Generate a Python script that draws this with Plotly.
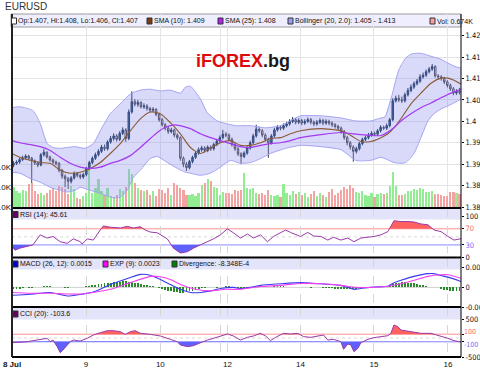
import plotly.graph_objects as go

# ---------------- data ----------------
open_ = [1.3898,1.3902,1.3905,1.3911,1.3915,1.3919,1.3914,1.3908,1.3903,1.3898,
         1.3922,1.3928,1.3917,1.3910,1.3905,1.3902,1.3886,1.3872,1.3866,1.3860,
         1.3868,1.3878,1.3874,1.3870,1.3876,1.3890,1.3904,1.3914,1.3922,1.3930,
         1.3940,1.3936,1.3952,1.3960,1.3966,1.3958,1.3972,1.3980,1.3960,1.4022,
         1.4046,1.4040,1.4044,1.4034,1.4036,1.4030,1.4026,1.4028,1.4016,1.4004,
         1.3992,1.3984,1.3976,1.3980,1.3968,1.3962,1.3914,1.3900,1.3892,1.3906,
         1.3916,1.3926,1.3934,1.3938,1.3932,1.3940,1.3936,1.3946,1.3954,1.3962,
         1.3970,1.3968,1.3958,1.3946,1.3936,1.3924,1.3918,1.3926,1.3938,1.3950,
         1.3966,1.3982,1.3978,1.3968,1.3958,1.3950,1.3966,1.3980,1.3986,1.3984,
         1.3990,1.3994,1.4000,1.4004,1.3998,1.4002,1.3996,1.4000,1.4004,1.3998,
         1.3994,1.3998,1.4002,1.3996,1.4000,1.3996,1.3992,1.3988,1.3984,1.3976,
         1.3962,1.3950,1.3940,1.3930,1.3936,1.3948,1.3958,1.3962,1.3968,1.3972,
         1.3970,1.3978,1.3986,1.3984,1.3990,1.4004,1.4048,1.4054,1.4050,1.4048,
         1.4062,1.4072,1.4080,1.4088,1.4094,1.4104,1.4108,1.4116,1.4122,1.4128,
         1.4106,1.4104,1.4100,1.4092,1.4084,1.4076,1.4066,1.4070]
high = [1.3907,1.3909,1.3915,1.3920,1.3923,1.3922,1.3917,1.3911,1.3906,1.3926,
        1.3935,1.3930,1.3920,1.3913,1.3908,1.3905,1.3889,1.3876,1.3870,1.3872,
        1.3883,1.3882,1.3878,1.3880,1.3894,1.3908,1.3918,1.3927,1.3935,1.3945,
        1.3946,1.3956,1.3966,1.3972,1.3970,1.3977,1.3986,1.3984,1.4028,1.4070,
        1.4052,1.4050,1.4047,1.4042,1.4040,1.4034,1.4033,1.4031,1.4020,1.4008,
        1.3996,1.3988,1.3985,1.3983,1.3972,1.3965,1.3918,1.3905,1.3910,1.3920,
        1.3930,1.3939,1.3943,1.3942,1.3944,1.3944,1.3950,1.3958,1.3967,1.3980,
        1.3975,1.3972,1.3962,1.3950,1.3940,1.3928,1.3930,1.3942,1.3955,1.3971,
        1.3992,1.3987,1.3982,1.3972,1.3962,1.3970,1.3985,1.3991,1.3990,1.3995,
        1.3999,1.4005,1.4010,1.4008,1.4007,1.4006,1.4005,1.4009,1.4008,1.4002,
        1.4003,1.4007,1.4006,1.4005,1.4004,1.4000,1.3996,1.3992,1.3988,1.3980,
        1.3966,1.3954,1.3944,1.3941,1.3952,1.3962,1.3967,1.3973,1.3977,1.3976,
        1.3982,1.3991,1.3990,1.3995,1.4008,1.4054,1.4060,1.4062,1.4058,1.4067,
        1.4078,1.4086,1.4093,1.4099,1.4110,1.4114,1.4121,1.4127,1.4134,1.4131,
        1.4110,1.4108,1.4104,1.4096,1.4088,1.4080,1.4075,1.4078]
low = [1.3893,1.3898,1.3901,1.3907,1.3911,1.3910,1.3856,1.3898,1.3893,1.3895,
       1.3918,1.3913,1.3906,1.3900,1.3897,1.3881,1.3866,1.3846,1.3842,1.3855,
       1.3864,1.3869,1.3865,1.3866,1.3872,1.3886,1.3900,1.3910,1.3918,1.3926,
       1.3931,1.3932,1.3948,1.3955,1.3953,1.3954,1.3968,1.3952,1.3956,1.4018,
       1.4035,1.4034,1.4030,1.4029,1.4025,1.4021,1.4022,1.4012,1.3999,1.3988,
       1.3979,1.3971,1.3972,1.3963,1.3957,1.3908,1.3893,1.3884,1.3888,1.3902,
       1.3912,1.3922,1.3929,1.3927,1.3928,1.3931,1.3932,1.3942,1.3950,1.3958,
       1.3963,1.3954,1.3941,1.3931,1.3919,1.3900,1.3914,1.3922,1.3934,1.3946,
       1.3962,1.3973,1.3963,1.3953,1.3915,1.3946,1.3962,1.3976,1.3979,1.3980,
       1.3986,1.3990,1.3996,1.3993,1.3994,1.3991,1.3992,1.3996,1.3993,1.3989,
       1.3990,1.3994,1.3991,1.3992,1.3991,1.3987,1.3983,1.3979,1.3971,1.3957,
       1.3944,1.3934,1.3906,1.3925,1.3932,1.3944,1.3954,1.3958,1.3964,1.3966,
       1.3966,1.3974,1.3980,1.3980,1.3986,1.4000,1.4044,1.4045,1.4043,1.4044,
       1.4058,1.4068,1.4076,1.4084,1.4090,1.4100,1.4104,1.4112,1.4118,1.4102,
       1.4099,1.4095,1.4087,1.4079,1.4071,1.4061,1.4062,1.4063]
close = [1.3902,1.3905,1.3911,1.3915,1.3919,1.3914,1.3908,1.3903,1.3898,1.3922,
         1.3928,1.3917,1.3910,1.3905,1.3902,1.3886,1.3872,1.3866,1.3860,1.3868,
         1.3878,1.3874,1.3870,1.3876,1.3890,1.3904,1.3914,1.3922,1.3930,1.3940,
         1.3936,1.3952,1.3960,1.3966,1.3958,1.3972,1.3980,1.3960,1.4022,1.4046,
         1.4040,1.4044,1.4034,1.4036,1.4030,1.4026,1.4028,1.4016,1.4004,1.3992,
         1.3984,1.3976,1.3980,1.3968,1.3962,1.3914,1.3900,1.3892,1.3906,1.3916,
         1.3926,1.3934,1.3938,1.3932,1.3940,1.3936,1.3946,1.3954,1.3962,1.3970,
         1.3968,1.3958,1.3946,1.3936,1.3924,1.3918,1.3926,1.3938,1.3950,1.3966,
         1.3982,1.3978,1.3968,1.3958,1.3950,1.3966,1.3980,1.3986,1.3984,1.3990,
         1.3994,1.4000,1.4004,1.3998,1.4002,1.3996,1.4000,1.4004,1.3998,1.3994,
         1.3998,1.4002,1.3996,1.4000,1.3996,1.3992,1.3988,1.3984,1.3976,1.3962,
         1.3950,1.3940,1.3930,1.3936,1.3948,1.3958,1.3962,1.3968,1.3972,1.3970,
         1.3978,1.3986,1.3984,1.3990,1.4004,1.4048,1.4054,1.4050,1.4048,1.4062,
         1.4072,1.4080,1.4088,1.4094,1.4104,1.4108,1.4116,1.4122,1.4128,1.4106,
         1.4104,1.4100,1.4092,1.4084,1.4076,1.4066,1.4070,1.4068]
volume_k = [1.0,0.8,0.7,0.85,0.8,1.15,1.2,0.8,0.65,0.7,0.6,0.7,0.85,0.95,0.8,1.05,1.0,0.9,0.65,1.05,
            0.9,0.45,0.4,0.55,0.7,1.9,0.7,0.95,1.4,0.8,0.6,0.95,0.55,0.5,0.6,0.9,0.8,1.0,1.9,1.65,
            1.2,0.95,0.85,0.8,0.85,0.6,0.8,0.55,0.9,0.85,0.7,0.95,0.6,1.2,1.1,0.95,0.85,0.6,0.6,0.65,
            0.55,0.7,1.1,1.2,1.4,1.3,1.0,0.95,0.6,0.75,0.7,0.7,0.65,0.85,0.8,0.85,1.7,0.95,0.9,0.95,
            0.7,0.65,0.7,0.6,0.85,0.6,0.55,0.6,0.5,1.15,0.7,0.6,0.8,0.65,0.75,0.6,0.7,0.5,0.65,0.8,
            0.55,0.7,0.6,0.5,0.75,0.9,0.6,0.7,0.85,1.0,0.9,1.1,0.95,0.75,0.7,0.8,0.6,0.55,0.7,0.5,
            0.65,0.7,0.65,0.7,1.05,1.75,1.05,0.6,0.6,0.65,0.8,0.8,0.9,0.85,0.95,0.9,0.75,0.75,0.8,0.65,
            0.65,0.6,0.55,0.55,0.75,0.75,0.7,0.674]

sma10_x = [-0.5,2.1,5.4,8.8,12.1,15.4,18.7,22.0,25.3,28.6,31.9,35.2,38.5,41.8,45.1,48.4,51.7,55.0,
           58.3,61.6,64.9,68.2,71.5,74.8,78.1,81.4,84.7,88.0,91.3,94.6,101.3,107.9,111.2,114.5,117.8,
           121.1,123.4,125.4,127.7,131.0,134.3,137.6,140.9,143.2,145.2,147.5]
sma10 = [1.3925,1.3916,1.3909,1.3904,1.3902,1.3886,1.3879,1.3881,1.3890,1.3904,1.3925,1.3948,1.3978,
         1.4006,1.4022,1.4018,1.3997,1.3971,1.3939,1.3925,1.3937,1.3950,1.3955,1.3944,1.3944,1.3950,
         1.3960,1.3962,1.3971,1.3978,1.3983,1.3978,1.3967,1.3953,1.3953,1.3962,1.3971,1.3985,1.4006,
         1.4041,1.4066,1.4089,1.4101,1.4101,1.4096,1.4087]
sma25_x = [-0.5,2.1,5.4,8.8,12.1,15.4,18.7,22.0,25.3,28.6,31.9,35.2,38.5,41.8,45.1,47.4,49.7,53.3,
           58.3,61.6,64.9,68.2,71.5,74.8,78.1,81.4,84.7,88.0,91.3,94.6,101.3,107.9,114.5,121.1,125.4,
           127.7,131.0,134.3,137.6,140.9,144.2,147.5]
sma25 = [1.3955,1.3950,1.3946,1.3941,1.3932,1.3916,1.3902,1.3893,1.3890,1.3893,1.3902,1.3909,1.3920,
         1.3939,1.3960,1.3974,1.3985,1.3992,1.3983,1.3971,1.3962,1.3955,1.3948,1.3941,1.3939,1.3944,
         1.3948,1.3950,1.3955,1.3962,1.3969,1.3974,1.3969,1.3967,1.3985,1.4001,1.4018,1.4032,1.4043,
         1.4055,1.4066,1.4075]
bb_up_x = [-0.5,2.1,6.4,8.8,11.1,13.0,15.4,17.7,20.3,23.6,26.3,28.6,31.9,35.2,38.5,41.8,45.1,48.4,
           51.7,55.0,56.7,58.3,61.6,63.9,67.2,70.5,73.2,78.1,83.1,88.0,93.0,94.6,101.3,107.9,112.8,
           117.8,121.1,122.4,124.7,127.0,129.3,131.0,134.3,137.6,140.9,143.2,145.2,147.5]
bb_up = [1.4032,1.4034,1.4025,1.3995,1.3948,1.3939,1.3937,1.3939,1.3941,1.3937,1.3948,1.3978,1.4018,
         1.4041,1.4064,1.4073,1.4075,1.4071,1.4073,1.4066,1.4080,1.4082,1.4052,1.4020,1.4001,1.3994,
         1.3990,1.3990,1.3985,1.3990,1.4008,1.4013,1.4013,1.4008,1.4001,1.4001,1.4008,1.4010,1.4060,
         1.4120,1.4148,1.4157,1.4159,1.4152,1.4145,1.4136,1.4129,1.4124]
bb_lo_x = [-0.5,2.1,5.4,8.8,12.1,15.4,17.7,20.3,22.0,25.3,28.6,31.9,33.5,35.2,37.5,39.5,41.8,45.1,
           47.4,50.0,53.3,56.7,58.3,61.6,64.9,68.2,71.5,74.8,78.1,81.4,84.7,89.7,94.6,101.3,107.9,
           112.8,117.8,121.1,125.4,127.7,129.3,132.0,134.3,136.6,138.6,140.9,143.2,147.5]
bb_lo = [1.3881,1.3879,1.3867,1.3858,1.3846,1.3839,1.3835,1.3839,1.3846,1.3839,1.3832,1.3823,1.3821,
         1.3823,1.3839,1.3869,1.3886,1.3913,1.3918,1.3907,1.3893,1.3881,1.3879,1.3874,1.3879,1.3893,
         1.3909,1.3902,1.3904,1.3913,1.3925,1.3937,1.3944,1.3941,1.3934,1.3909,1.3909,1.3916,1.3904,
         1.3902,1.3904,1.3925,1.3962,1.4001,1.4018,1.4029,1.4036,1.4052]

rsi_x = [-0.5,0.5,2.1,4.5,6.4,8.8,11.1,13.0,15.4,17.7,19.7,22.0,22.6,24.3,26.3,28.6,29.6,31.9,35.2,
         37.5,39.5,41.8,43.4,45.1,47.4,49.4,50.7,52.7,55.0,57.3,59.3,61.6,63.9,65.9,68.2,70.5,72.5,
         74.8,77.1,79.1,81.4,83.7,85.7,88.0,89.7,91.3,94.6,97.0,99.0,101.3,103.6,105.5,107.9,110.2,
         112.2,114.5,116.8,118.8,121.1,123.4,125.4,127.7,130.0,132.0,134.3,136.6,138.6,140.9,143.2,
         145.2,147.5]
rsi = [26,17,22,26,30,55,47,51,38,34,45,38,32,45,42,67,77,74,72,76,72,75,67,62,60,51,45,22,10,13,
       22,30,38,45,55,70,60,47,57,47,55,38,51,60,67,61,51,61,52,51,42,49,42,47,38,47,49,51,55,63,
       90,88,88,87,82,80,67,63,51,42,45.61]

macd_x = [-0.5,5.4,12.1,17.7,22.0,26.3,28.6,31.9,35.2,38.5,41.8,45.1,48.4,51.7,55.0,58.3,61.6,64.9,
          68.2,72.5,74.8,78.1,81.4,88.0,94.6,101.3,107.9,112.2,114.5,118.8,123.4,125.4,127.7,132.0,
          136.6,138.6,140.9,143.2,147.5]
macd = [-0.0020,-0.00175,-0.0013,-0.0022,-0.0018,-0.0012,-0.0005,0.00075,0.0016,0.0025,0.0033,
        0.0031,0.0020,0.00075,-0.0005,-0.0013,-0.0013,-0.0009,-0.0003,0.0,-0.0003,0.0,0.0005,0.0009,
        0.0012,0.0009,0.0005,-0.0005,-0.0003,0.0001,0.0003,0.0012,0.0018,0.0028,0.0035,0.0035,0.0030,
        0.0026,0.0015]
signal_x = [-0.5,5.4,12.1,17.7,22.0,26.3,31.9,38.5,45.1,48.4,51.7,55.0,60.0,64.9,69.9,74.8,81.4,
            88.0,94.6,101.3,107.9,112.8,117.8,123.4,127.7,132.0,136.6,140.9,143.2,147.5]
signal = [-0.0013,-0.0015,-0.0015,-0.0017,-0.0017,-0.0013,-0.0005,0.0012,0.0028,0.0027,0.0020,
          0.00075,-0.0005,-0.0009,-0.0005,-0.0005,0.0002,0.0005,0.0010,0.0009,0.0005,0.0,0.0,0.0003,
          0.0009,0.0018,0.0028,0.0032,0.0032,0.0023]
divergence = [-0.0004,-0.0005,-0.0004,
              -0.0001,0.0,-0.0002,-0.0001,0.0001,0.0,
              0.0002,0.0003,0.0003,0.0003,0.0002,0.0002,0.0001,
              0.0,-0.0001,-0.0001,0.0,0.0001,0.0,0.0,
              0.0002,0.0003,0.0004,0.0005,0.0006,0.0008,0.0009,
              0.0010,0.0011,0.0012,0.0013,0.0013,0.0014,0.0015,0.0016,0.0014,0.0013,0.0012,
              0.0011,0.0009,0.0007,0.0005,
              0.0004,0.0003,0.0001,
              -0.0002,-0.0004,-0.0006,-0.0008,-0.0010,-0.0012,-0.0013,-0.0014,-0.0014,-0.0012,
              -0.0010,-0.0008,-0.0006,-0.0004,
              -0.0002,-0.0001,0.0,0.0001,0.0,-0.0001,0.0,0.0002,0.0003,0.0003,0.0002,0.0001,-0.0001,-0.0002,
              -0.0002,-0.0001,0.0,0.0001,
              0.0002,0.0003,0.0003,0.0002,0.0001,0.0002,0.0003,0.0004,0.0003,0.0003,0.0002,0.0002,0.0001,0.0001,0.0,0.0,
              0.0001,0.0,-0.0001,0.0,0.0001,0.0,-0.0001,-0.0001,-0.0002,
              -0.0002,-0.0003,-0.0003,-0.0004,-0.0005,-0.0005,-0.0004,-0.0004,-0.0003,-0.0002,
              -0.0001,0.0,0.0001,0.0001,0.0002,0.0002,0.0002,0.0003,0.0003,
              0.0006,0.0009,0.0011,0.0012,0.0013,0.0013,0.0012,0.0011,0.0010,0.0008,0.0006,0.0005,0.0004,
              0.0002,0.0002,0.0001,0.0,
              -0.0004,-0.0006,-0.0007,-0.0008,-0.0009,-0.0009,-0.0008348]

cci_x = [-0.5,2.1,4.5,6.4,8.8,11.1,12.1,13.0,14.4,15.4,16.3,17.7,18.7,19.7,22.0,24.3,26.3,28.6,30.9,
         32.9,35.2,36.8,38.5,40.1,41.8,45.1,48.4,51.7,54.0,55.0,57.3,59.3,61.6,63.9,65.9,68.2,70.5,
         72.5,74.8,77.1,79.1,81.4,83.1,84.7,86.4,89.0,91.3,93.7,95.6,98.0,100.3,102.2,103.6,105.5,
         107.9,108.8,110.2,111.2,112.2,113.5,114.5,116.8,118.8,121.1,123.4,124.4,125.4,126.7,127.7,
         131.0,134.3,137.6,140.9,143.2,145.2,147.5]
cci = [-123,-113,-97,-70,-35,-9,-97,-53,-228,-386,-316,-184,-97,-53,-79,-9,79,140,193,193,167,96,
       167,193,123,96,53,-35,-97,-184,-228,-202,-123,-53,-9,53,105,53,-53,18,53,123,53,-70,18,123,
       105,123,35,18,53,79,-53,-35,-97,-298,-158,-184,-360,-272,-123,-35,9,35,61,123,342,298,210,
       167,123,123,53,-9,-70,-103.6]

x_tick_vals = [-0.5, 23.9, 48.4, 68.2, 70.5, 94.6, 118.8, 143.2]
x_tick_text = ["<b>8 Jul</b>", "9", "10", "", "12", "14", "15", "16"]
price_ticks = [1.38, 1.385, 1.39, 1.395, 1.40, 1.405, 1.41, 1.415, 1.42]
price_tick_text = ["1.38", "1.385", "1.39", "1.395", "1.4", "1.405", "1.41", "1.415", "1.42"]
vol_ticks = [0, 1, 2]
vol_tick_text = ["0.0K", "1.0K", "2.0K"]
rsi_ticks = [0, 30, 70, 100]
macd_ticks = [-0.005, 0, 0.005]
cci_ticks = [-500, -100, 100, 500]

# ---------------- layout helpers ----------------
W, H = 480, 370
ML, MR, MT, MB = 12, 19, 14, 13
PW = W - ML - MR
PH = H - MT - MB
FONT = "Liberation Sans, Arial, sans-serif"
NARROW = "Liberation Sans Narrow, Arial Narrow, DejaVu Sans Condensed, Liberation Sans, sans-serif"
RED_TXT, BLUE_TXT = '#ff6a6a', '#7070ff'


def px(x):
    return (x - ML) / PW


def py(y):
    return (H - MB - y) / PH


def clip_poly(xs, ys, t, above=True):
    ox, oy = [], []
    for i in range(len(xs)):
        if i > 0:
            a, b = ys[i - 1] - t, ys[i] - t
            if a * b < 0:
                f = a / (a - b)
                ox.append(xs[i - 1] + f * (xs[i] - xs[i - 1]))
                oy.append(t)
        ox.append(xs[i])
        oy.append(max(ys[i], t) if above else min(ys[i], t))
    ox += [xs[-1], xs[0]]
    oy += [t, t]
    return ox, oy


idx = list(range(len(close)))
vol_colors = ['#92ec92' if c > o else ('#f4a3a3' if c < o else '#c8c8c8')
              for o, c in zip(open_, close)]

fig = go.Figure()

# volume (base axis of main panel)
fig.add_trace(go.Bar(x=idx, y=volume_k, width=0.72, marker=dict(color=vol_colors, line=dict(width=0)),
                     xaxis='x', yaxis='y', hoverinfo='skip'))
# bollinger band
fig.add_trace(go.Scatter(x=bb_up_x + bb_lo_x[::-1], y=bb_up + bb_lo[::-1], fill='toself',
                         fillcolor='rgba(140,140,240,0.33)', line=dict(width=0), mode='lines',
                         xaxis='x', yaxis='y2', hoverinfo='skip'))
for bx, by in ((bb_up_x, bb_up), (bb_lo_x, bb_lo)):
    fig.add_trace(go.Scatter(x=bx, y=by, mode='lines', line=dict(color='#a4a4f4', width=1, shape='spline', smoothing=0.6),
                             xaxis='x', yaxis='y2', hoverinfo='skip'))
# candles
fig.add_trace(go.Candlestick(x=idx, open=open_, high=high, low=low, close=close,
                             increasing=dict(line=dict(color='#0d2c48', width=1), fillcolor='#1d5a88'),
                             decreasing=dict(line=dict(color='#3c3c3c', width=1), fillcolor='#ffffff'),
                             whiskerwidth=0, xaxis='x', yaxis='y2', hoverinfo='skip'))
fig.add_trace(go.Scatter(x=sma10_x, y=sma10, mode='lines', line=dict(color='#8a5a34', width=1.1, shape='spline', smoothing=0.6),
                         xaxis='x', yaxis='y2', hoverinfo='skip'))
fig.add_trace(go.Scatter(x=sma25_x, y=sma25, mode='lines', line=dict(color='#a33af0', width=1.2, shape='spline', smoothing=0.6),
                         xaxis='x', yaxis='y2', hoverinfo='skip'))

# RSI
fx, fy = clip_poly(rsi_x, rsi, 70, True)
fig.add_trace(go.Scatter(x=fx, y=fy, fill='toself', fillcolor='#ff6060', line=dict(width=0), mode='lines',
                         xaxis='x2', yaxis='y3', hoverinfo='skip'))
fx, fy = clip_poly(rsi_x, rsi, 30, False)
fig.add_trace(go.Scatter(x=fx, y=fy, fill='toself', fillcolor='#6060ff', line=dict(width=0), mode='lines',
                         xaxis='x2', yaxis='y3', hoverinfo='skip'))
fig.add_trace(go.Scatter(x=rsi_x, y=rsi, mode='lines', line=dict(color='#9a3aa8', width=1),
                         xaxis='x2', yaxis='y3', hoverinfo='skip'))

# MACD
fig.add_trace(go.Bar(x=idx, y=divergence, width=0.62, marker=dict(color='#2a8a2a', line=dict(width=0)),
                     xaxis='x3', yaxis='y4', hoverinfo='skip'))
fig.add_trace(go.Scatter(x=macd_x, y=macd, mode='lines', line=dict(color='#3a3af0', width=1.1, shape='spline', smoothing=0.5),
                         xaxis='x3', yaxis='y4', hoverinfo='skip'))
fig.add_trace(go.Scatter(x=signal_x, y=signal, mode='lines', line=dict(color='#f040f0', width=1.1, shape='spline', smoothing=0.5),
                         xaxis='x3', yaxis='y4', hoverinfo='skip'))

# CCI
fx, fy = clip_poly(cci_x, cci, 100, True)
fig.add_trace(go.Scatter(x=fx, y=fy, fill='toself', fillcolor='#ff6060', line=dict(width=0), mode='lines',
                         xaxis='x4', yaxis='y5', hoverinfo='skip'))
fx, fy = clip_poly(cci_x, cci, -100, False)
fig.add_trace(go.Scatter(x=fx, y=fy, fill='toself', fillcolor='#6060ff', line=dict(width=0), mode='lines',
                         xaxis='x4', yaxis='y5', hoverinfo='skip'))
fig.add_trace(go.Scatter(x=cci_x, y=cci, mode='lines', line=dict(color='#9a3aa8', width=1),
                         xaxis='x4', yaxis='y5', hoverinfo='skip'))

# ---------------- axes ----------------
xr = [-0.5, len(close) - 0.5]
xcommon = dict(range=xr, tickvals=x_tick_vals, ticktext=x_tick_text, zeroline=False, showline=False,
               ticks='', fixedrange=True, automargin=False)
right_tick = dict(side='right', ticks='outside', ticklen=2, tickcolor='#000', showgrid=False, zeroline=False,
                  tickfont=dict(family=NARROW, size=7.5, color='#111'), showline=False, automargin=False,
                  ticklabelstandoff=0, fixedrange=True)

d_main = [py(208), 1]
d_rsi = [py(257.5), py(208)]
d_macd = [py(307), py(257.5)]
d_cci = [0, py(307)]

fig.update_layout(
    width=W, height=H, margin=dict(l=ML, r=MR, t=MT, b=MB, autoexpand=False),
    paper_bgcolor='white', plot_bgcolor='rgba(0,0,0,0)', showlegend=False,
    bargap=0, barmode='overlay', hovermode=False, dragmode=False,
    xaxis=dict(domain=[0, 1], anchor='y', showticklabels=False, showgrid=True, gridcolor='#e4e4e4',
               rangeslider=dict(visible=False), **xcommon),
    xaxis2=dict(domain=[0, 1], anchor='y3', matches='x', showticklabels=False, showgrid=True,
                gridcolor='#d6d6d6', griddash='dash', **xcommon),
    xaxis3=dict(domain=[0, 1], anchor='y4', matches='x', showticklabels=False, showgrid=True,
                gridcolor='#d6d6d6', griddash='dash', **xcommon),
    xaxis4=dict(domain=[0, 1], anchor='y5', matches='x', showticklabels=True, showgrid=True,
                gridcolor='#d6d6d6', griddash='dash', ticklabelstandoff=1,
                tickfont=dict(family=FONT, size=8, color='#111'), **xcommon),
    yaxis=dict(domain=d_main, anchor='x', side='left', range=[-0.05, 9.65], tickvals=vol_ticks,
               ticktext=vol_tick_text, showgrid=False, zeroline=False, ticks='', automargin=False,
               ticklabelstandoff=0, fixedrange=True, tickfont=dict(family=FONT, size=8, color='#111')),
    yaxis2=dict(overlaying='y', anchor='x', range=[1.37977, 1.42507], tickvals=price_ticks,
                ticktext=price_tick_text, **{**right_tick, 'showgrid': True}, gridcolor='#e4e4e4'),
    yaxis3=dict(domain=d_rsi, anchor='x2', range=[-1.2, 121.6], tickvals=rsi_ticks,
                ticktext=['0', "<span style='color:%s'>30</span>" % BLUE_TXT,
                          "<span style='color:%s'>70</span>" % RED_TXT, '100'],
                **right_tick),
    yaxis4=dict(domain=d_macd, anchor='x3', range=[-0.005, 0.0076], tickvals=macd_ticks,
                ticktext=['-0.005', '0', '0.005'], **right_tick),
    yaxis5=dict(domain=d_cci, anchor='x4', range=[-500, 816], tickvals=cci_ticks,
                ticktext=['-500', '', '', '500'], **right_tick),
)

shapes = []
# legend bands
shapes.append(dict(type='rect', xref='paper', yref='paper', x0=px(11), x1=px(461), y0=py(27), y1=py(14),
                   fillcolor='#eeeefe', line=dict(color='#9a9a9a', width=1), layer='below'))
for top, bot in ((209, 219.5), (258.5, 269.5), (308, 319.5)):
    shapes.append(dict(type='rect', xref='paper', yref='paper', x0=0, x1=1, y0=py(bot), y1=py(top),
                       fillcolor='#e3e3fa', line=dict(width=0), layer='below'))
# reference lines
for yref, val, col, dash in (('y3', 70, '#ff9090', 'solid'), ('y3', 30, '#8a8aff', 'solid'),
                             ('y3', 50, '#d8d8d8', 'dot'), ('y4', 0, '#d0d0d0', 'solid'),
                             ('y5', 100, '#ff9090', 'solid'), ('y5', -100, '#8a8aff', 'solid'),
                             ('y5', 0, '#d8d8d8', 'dot')):
    shapes.append(dict(type='line', xref='paper', yref=yref, x0=0, x1=1, y0=val, y1=val,
                       line=dict(color=col, width=1, dash=dash), layer='below'))
# frame and separators
for yy in (208, 257.5, 307, 357):
    shapes.append(dict(type='line', xref='paper', yref='paper', x0=0, x1=1, y0=py(yy), y1=py(yy),
                       line=dict(color='#000', width=2), layer='above'))
shapes.append(dict(type='line', xref='paper', yref='paper', x0=0, x1=0, y0=0, y1=py(14),
                   line=dict(color='#222', width=2), layer='above'))
shapes.append(dict(type='line', xref='paper', yref='paper', x0=1, x1=1, y0=0, y1=py(14),
                   line=dict(color='#000', width=1), layer='above'))


def square(x0, yc, fill, border='#333'):
    shapes.append(dict(type='rect', xref='paper', yref='paper', x0=px(x0), x1=px(x0 + 5),
                       y0=py(yc + 3), y1=py(yc - 3), fillcolor=fill, line=dict(color=border, width=1),
                       layer='above'))


annotations = []


def label(x, yc, text, size=7.5, color='#111', yanchor='middle', family=FONT):
    annotations.append(dict(xref='paper', yref='paper', x=px(x), y=py(yc), text=text, showarrow=False,
                            xanchor='left', yanchor=yanchor, font=dict(family=family, size=size, color=color)))


# main legend
square(11.5, 21, '#ffffff')
label(16, 21, 'Op:1.407, Hi:1.408, Lo:1.406, Cl:1.407', 7)
square(147, 21, '#7a3a12')
label(152, 21, 'SMA (10): 1.409', 7)
square(218, 21, '#b020f0')
label(223, 21, 'SMA (25): 1.408', 7)
square(288, 21, '#9c9cf4')
label(293, 21, 'Bollinger (20, 2.0): 1.405 - 1.413', 7)
square(430, 21, '#f4a0a0')
label(435, 21, 'Vol: 0.674K', 7)
# indicator legends
square(13, 214.5, '#660066')
label(18, 214.5, 'RSI (14): 45.61', 7)
square(13, 264, '#0000cc')
label(18, 264, 'MACD (26, 12): 0.0015', 7)
square(103, 264, '#ff00ff')
label(108, 264, 'EXP (9): 0.0023', 7)
square(172, 264, '#008000')
label(177, 264, 'Divergence: -8.348E-4', 7)
square(13, 314, '#660066')
label(18, 314, 'CCI (20): -103.6', 7)
# CCI +/-100 labels placed apart so they do not collide
label(462, 337.6, "<span style='color:%s'>100</span>" % RED_TXT, 7, yanchor='bottom', family=NARROW)
label(462, 338.6, "<span style='color:%s'>-100</span>" % BLUE_TXT, 7, yanchor='top', family=NARROW)
# title and logo
label(3, 7, 'EURUSD', 10, '#333')
annotations.append(dict(xref='paper', yref='paper', x=px(242.5), y=py(61), showarrow=False,
                        xanchor='center', yanchor='middle',
                        text="<b><span style='color:#dd0a0a'>iFOREX</span><span style='color:#1a1a1a'>.bg</span></b>",
                        font=dict(family=FONT, size=18)))

fig.update_layout(shapes=shapes, annotations=annotations)
fig.write_html("out.html", config={'displayModeBar': False, 'staticPlot': True},
               post_script="document.body.style.margin='0';")
